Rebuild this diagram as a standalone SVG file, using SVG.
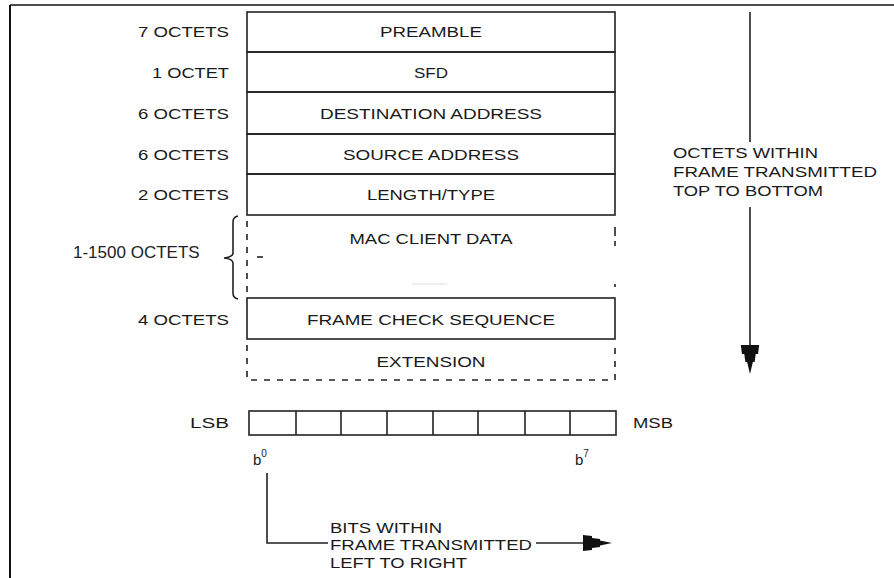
<svg xmlns="http://www.w3.org/2000/svg" width="894" height="578" viewBox="0 0 894 578">
<style>
.t{font-family:"Liberation Sans",Arial,sans-serif;font-size:15px;fill:#1a1a1a}
.c{text-anchor:middle}
.r{text-anchor:end}
.box{fill:none;stroke:#222;stroke-width:1.6}
.ln{fill:none;stroke:#222;stroke-width:1.6}
.dash{fill:none;stroke:#222;stroke-width:1.6;stroke-dasharray:6 7}
.cell{fill:none;stroke:#222;stroke-width:1.6}
</style>
<defs>
<path id="ah" d="M-29,-8 L-20,-7 L-20,-5 L-12,-4 L-12,-2.5 L0,0 L-12,2.5 L-12,4 L-20,5 L-20,7 L-29,8 Z" fill="#111"/>
</defs>
<rect x="0" y="0" width="894" height="578" fill="#fff"/>
<g id="frame">
<line x1="10" y1="5" x2="894" y2="5" stroke="#111" stroke-width="1.6"/>
<line x1="10" y1="5" x2="10" y2="578" stroke="#111" stroke-width="2"/>
</g>
<g id="preamble">
<rect class="box" x="247" y="12" width="368" height="40"/>
<text class="t r" x="229" y="37" textLength="91" lengthAdjust="spacingAndGlyphs">7 OCTETS</text>
<text class="t c" x="431" y="37" textLength="102" lengthAdjust="spacingAndGlyphs">PREAMBLE</text>
</g>
<g id="sfd">
<rect class="box" x="247" y="52" width="368" height="40"/>
<text class="t r" x="229" y="78" textLength="77" lengthAdjust="spacingAndGlyphs">1 OCTET</text>
<text class="t c" x="431" y="78" textLength="34" lengthAdjust="spacingAndGlyphs">SFD</text>
</g>
<g id="dest">
<rect class="box" x="247" y="92" width="368" height="42"/>
<text class="t r" x="229" y="119" textLength="91" lengthAdjust="spacingAndGlyphs">6 OCTETS</text>
<text class="t c" x="431" y="119" textLength="222" lengthAdjust="spacingAndGlyphs">DESTINATION ADDRESS</text>
</g>
<g id="src">
<rect class="box" x="247" y="134" width="368" height="40"/>
<text class="t r" x="229" y="160" textLength="91" lengthAdjust="spacingAndGlyphs">6 OCTETS</text>
<text class="t c" x="431" y="160" textLength="176" lengthAdjust="spacingAndGlyphs">SOURCE ADDRESS</text>
</g>
<g id="lentype">
<rect class="box" x="247" y="174" width="368" height="41"/>
<text class="t r" x="229" y="200" textLength="91" lengthAdjust="spacingAndGlyphs">2 OCTETS</text>
<text class="t c" x="431" y="200" textLength="128" lengthAdjust="spacingAndGlyphs">LENGTH/TYPE</text>
</g>
<g id="macdata">
<line class="dash" x1="247" y1="221" x2="247" y2="298"/>
<line class="ln" x1="615" y1="227" x2="615" y2="236"/>
<line class="ln" x1="615" y1="241" x2="615" y2="246"/>
<line class="ln" x1="615" y1="284" x2="615" y2="287"/>
<line class="ln" x1="257" y1="257" x2="263" y2="257"/>
<line x1="412" y1="284" x2="447" y2="284" stroke="#ddd" stroke-width="1.2"/>
<text class="t c" x="431" y="244" textLength="163" lengthAdjust="spacingAndGlyphs">MAC CLIENT DATA</text>
<path class="ln" d="M238,216 Q233,217 233,222 L233,253 Q233,257 224,258 Q233,259 233,263 L233,293 Q233,298 238,299"/>
<text x="73" y="258" font-family="Liberation Sans,Arial,sans-serif" font-size="17" fill="#222">1-1500 OCTETS</text>
</g>
<g id="fcs">
<rect class="box" x="247" y="298" width="368" height="41"/>
<text class="t r" x="229" y="325" textLength="91" lengthAdjust="spacingAndGlyphs">4 OCTETS</text>
<text class="t c" x="431" y="325" textLength="248" lengthAdjust="spacingAndGlyphs">FRAME CHECK SEQUENCE</text>
</g>
<g id="extension">
<path class="dash" d="M247,345 L247,380 L615,380 L615,345"/>
<text class="t c" x="431" y="367" textLength="109" lengthAdjust="spacingAndGlyphs">EXTENSION</text>
</g>
<g id="bits">
<rect class="cell" x="249" y="411" width="367" height="24"/>
<line class="cell" x1="296" y1="411" x2="296" y2="435"/>
<line class="cell" x1="341" y1="411" x2="341" y2="435"/>
<line class="cell" x1="387" y1="411" x2="387" y2="435"/>
<line class="cell" x1="433" y1="411" x2="433" y2="435"/>
<line class="cell" x1="478" y1="411" x2="478" y2="435"/>
<line class="cell" x1="525" y1="411" x2="525" y2="435"/>
<line class="cell" x1="570" y1="411" x2="570" y2="435"/>
<text class="t r" x="229" y="428" textLength="39" lengthAdjust="spacingAndGlyphs">LSB</text>
<text class="t" x="633" y="428" textLength="40" lengthAdjust="spacingAndGlyphs">MSB</text>
<text class="t" x="253" y="465">b<tspan font-size="10" dy="-8">0</tspan></text>
<text class="t" x="575" y="465">b<tspan font-size="10" dy="-8">7</tspan></text>
</g>
<g id="octets-note">
<text class="t" x="673" y="158" textLength="145" lengthAdjust="spacingAndGlyphs">OCTETS WITHIN</text>
<text class="t" x="673" y="177" textLength="204" lengthAdjust="spacingAndGlyphs">FRAME TRANSMITTED</text>
<text class="t" x="673" y="196" textLength="150" lengthAdjust="spacingAndGlyphs">TOP TO BOTTOM</text>
</g>
<g id="bits-note">
<text class="t" x="330" y="533" textLength="112" lengthAdjust="spacingAndGlyphs">BITS WITHIN</text>
<text class="t" x="330" y="550" textLength="202" lengthAdjust="spacingAndGlyphs">FRAME TRANSMITTED</text>
<text class="t" x="330" y="568" textLength="137" lengthAdjust="spacingAndGlyphs">LEFT TO RIGHT</text>
</g>
<g id="connectors">
<line class="ln" x1="750" y1="12" x2="750" y2="142"/>
<line class="ln" x1="750" y1="207" x2="750" y2="350"/>
<use href="#ah" transform="translate(750,374) rotate(90) scale(1,1.15)"/>
<path class="ln" d="M267,473 L267,543 L328,543"/>
<line class="ln" x1="536" y1="543" x2="590" y2="543"/>
<use href="#ah" transform="translate(612,543)"/>
</g>
</svg>
